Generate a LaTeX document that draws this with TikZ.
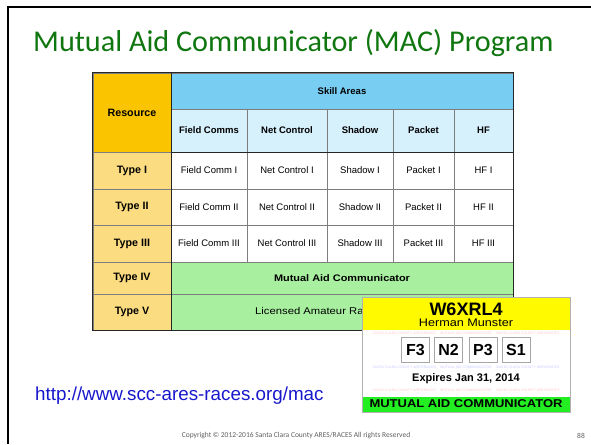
\documentclass[tikz,border=0pt]{standalone}
\usepackage{fontspec}
\newfontfamily\slidefont{Carlito}
\newfontfamily\tablefont{Liberation Sans}
\newfontfamily\widefont[FakeStretch = 1.15]{Liberation Sans}

\definecolor{titlegreen}{RGB}{16,118,16}
\definecolor{urlblue}{RGB}{24,24,204}
\definecolor{resgold}{RGB}{250,196,0}
\definecolor{typegold}{RGB}{252,220,128}
\definecolor{skillblue}{RGB}{120,205,243}
\definecolor{subblue}{RGB}{214,240,252}
\definecolor{macgreen}{RGB}{168,240,160}
\definecolor{gridgray}{RGB}{125,125,125}
\definecolor{cardyellow}{RGB}{255,250,0}
\definecolor{cardgreen}{RGB}{34,238,34}

\tikzset{
	cell/.style = {draw = gridgray, line width = 0.6pt, inner sep = 0pt},
	rule/.style = {draw = black!85, line width = 1.2pt},
	headfont/.style = {font = \tablefont\bfseries\fontsize{9.5}{10}\selectfont},
	labelfont/.style = {font = \tablefont\bfseries\fontsize{10.7}{11}\selectfont},
	bodyfont/.style = {font = \tablefont\fontsize{9.5}{10}\selectfont},
	certbox/.style = {draw = gray!70, fill = white, minimum width = 28, minimum height = 25, inner sep = 0pt, font = \tablefont\bfseries\fontsize{16}{16}\selectfont},
	watermark/.style = {opacity = 0.35, inner sep = 0pt, font = \tablefont\fontsize{3.5}{4}\selectfont}
}

\begin{document}
\begin{tikzpicture}[x = 1pt, y = -1pt]

	\useasboundingbox [fill = white] (0, 0) rectangle (591, 444);

	% Slide frame, cut off by the page on the right and at the bottom
	
	\draw [line width = 2pt] (8, 444) -- (8, 7) -- (591, 7);

	% Title
	
	\node [anchor = base west, inner sep = 0pt, text = titlegreen, font = \slidefont\fontsize{30.2}{31}\selectfont] (title) at (33, 52) {Mutual Aid Communicator (MAC) Program};

	% Resource column
	
	\node [cell, fill = resgold, minimum width = 78, minimum height = 79, labelfont] (resource) at (132, 112.5) {Resource};
	
	\foreach \lab/\y/\h [count = \i] in {I/170.5/37, II/207/36, III/243.5/37, IV/278/32, V/312/36}
		\node [cell, fill = typegold, minimum width = 78, minimum height = \h, labelfont] (type\i) at (132, \y) {Type \lab};

	% Skill areas
	
	\node [cell, fill = skillblue, minimum width = 342, minimum height = 36, headfont] (skills) at (342, 91) {Skill Areas};
	
	\foreach \txt/\x/\w [count = \j] in {Field Comms/209/76, Net Control/287/80, Shadow/360/66, Packet/423.5/61, HF/483.5/59}
		\node [cell, fill = subblue, minimum width = \w, minimum height = 43, headfont] (area\j) at (\x, 130.5) {\txt};
	
	\foreach \lab/\y/\h [count = \i] in {I/170.5/37, II/207/36, III/243.5/37}
	{
		\foreach \txt/\x/\w [count = \j] in {Field Comm/209/76, Net Control/287/80, Shadow/360/66, Packet/423.5/61, HF/483.5/59}
			\node [cell, fill = white, minimum width = \w, minimum height = \h, bodyfont] (skill\i-\j) at (\x, \y) {\txt\ \lab};
	}
	
	\node [cell, fill = macgreen, minimum width = 342, minimum height = 32, font = \widefont\bfseries\fontsize{9.5}{10}\selectfont] (mac) at (342, 278) {Mutual Aid Communicator};
	\node [cell, fill = macgreen, minimum width = 342, minimum height = 36] (licence) at (342, 312) {};
	\node [anchor = west, inner sep = 0pt, font = \widefont\fontsize{9.8}{10}\selectfont] (licencetext) at (255, 312) {Licensed Amateur Radio Operator};

	% Heavier rules of the table
	
	\draw [rule] (resource.north east) -- (type5.south east);
	\draw [rule] (area1.south west) -- (area5.south east);
	\draw [rule] (resource.north west) rectangle (licence.south east);

	% ID card
	
	\node [draw = gray!60, fill = white, minimum width = 208, minimum height = 115, inner sep = 0pt] (card) at (466, 354.5) {};
	
	\begin{scope}
		\clip ([yshift = -33pt]card.north west) rectangle ([yshift = 15pt]card.south east);
		\foreach \y/\col [count = \w] in {333.5/red, 367/blue, 390/red}
			\node [watermark, text = \col!60] (wm\w) at (466, \y) {SANTA CLARA COUNTY ARES/RACES \quad MUTUAL AID COMMUNICATOR \quad SANTA CLARA COUNTY ARES/RACES};
	\end{scope}
	
	\fill [cardyellow] (card.north west) rectangle ([yshift = -33pt]card.north east);
	\fill [cardgreen] (card.south west) rectangle ([yshift = 15pt]card.south east);
	\draw [gray!60] (card.north west) rectangle (card.south east);
	
	\node [anchor = base, font = \tablefont\bfseries\fontsize{18}{18}\selectfont] (callsign) at (466, 315) {W6XRL4};
	\node [anchor = base, font = \widefont\fontsize{11}{11}\selectfont] (holder) at (466, 326.7) {Herman Munster};
	
	\foreach \cert/\x [count = \k] in {F3/415.5, N2/448.5, P3/483, S1/516}
		\node [certbox] (cert\k) at (\x, 349.5) {\cert};
	
	\node [anchor = base, font = \tablefont\bfseries\fontsize{11}{11}\selectfont] (expiry) at (466, 381) {Expires Jan 31, 2014};
	\node [anchor = base, font = \widefont\bfseries\fontsize{11.3}{11}\selectfont] (program) at (466, 407) {MUTUAL AID COMMUNICATOR};

	% Link and footer
	
	\node [anchor = base west, inner sep = 0pt, text = urlblue, font = \tablefont\fontsize{18.8}{19}\selectfont] (link) at (35, 400) {http://www.scc-ares-races.org/mac};
	
	\node [text = gray!75!black, font = \slidefont\fontsize{7.5}{8}\selectfont] (copyright) at (296, 436) {Copyright © 2012-2016 Santa Clara County ARES/RACES All rights Reserved};
	\node [text = gray!75!black, font = \slidefont\fontsize{7.5}{8}\selectfont] (page) at (581, 436) {88};

\end{tikzpicture}
\end{document}
